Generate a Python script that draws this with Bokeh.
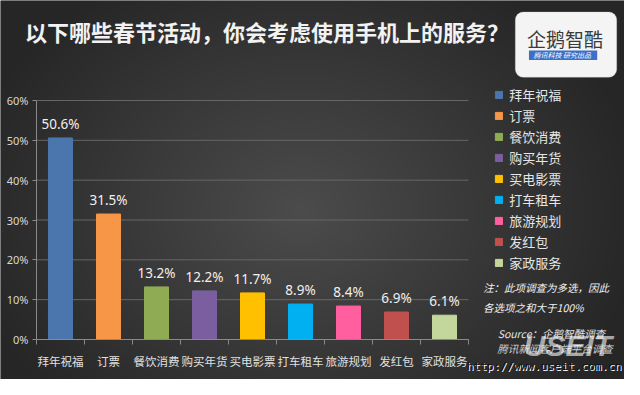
import numpy as np
from bokeh.plotting import figure
from bokeh.models import (Range1d, FixedTicker, PrintfTickFormatter, Label, Legend,
                          LegendItem, ColumnDataSource, BoxAnnotation)
from bokeh.embed import file_html
from bokeh.resources import INLINE
from bokeh.core.properties import value

# ---- data ----
categories = ["拜年祝福", "订票", "餐饮消费", "购买年货", "买电影票", "打车租车", "旅游规划", "发红包", "家政服务"]
shares = [50.6, 31.5, 13.2, 12.2, 11.7, 8.9, 8.4, 6.9, 6.1]
colors = ["#4a76ad", "#f79646", "#8fac54", "#7a5ea0", "#ffc000", "#00b0f0", "#ff5f9e", "#c0504d", "#c3d69b"]
y_ticks = [0, 10, 20, 30, 40, 50, 60]

title_text = "以下哪些春节活动，你会考虑使用手机上的服务？"
note_lines = ["注：此项调查为多选，因此", "各选项之和大于100%"]
source_lines = ["Source：企鹅智酷调查", "腾讯新闻客户端平台调查"]

W, H = 624, 379
SX, SY = W / 640, H / 395
FL, FR, FT, FB = 36, 468, 100, 339      # chart area (axes box) in canvas px
BG = "#3a3a3a"
CJK = "Noto Sans CJK SC"
n = len(categories)
YMAX = 60
PXU = (FR - FL) / n          # px per x unit
PYU = (FB - FT) / YMAX       # px per y unit
X0, X1 = 0.5 - FL / PXU, 0.5 + (W - FL) / PXU
Y0, Y1 = -(H - FB) / PYU, FB / PYU


def dx(rx):  # reference pixel x -> data x
    return 0.5 + (rx * SX - FL) / PXU


def dy(ry):  # reference pixel y -> data y
    return (FB - ry * SY) / PYU


xs = list(range(1, n + 1))
src = ColumnDataSource(dict(x=xs, y=shares, c=colors, cat=categories,
                            lab=[f"{v:.1f}%" for v in shares]))

p = figure(width=W, height=H, output_backend="svg", toolbar_location=None,
           x_range=Range1d(X0, X1), y_range=Range1d(Y0, Y1),
           min_border_left=0, min_border_right=0, min_border_top=0, min_border_bottom=0)
p.background_fill_color = BG
p.border_fill_color = BG
p.outline_line_color = None

# soft radial background shading
gy, gx = np.mgrid[0:H, 0:W]
d = np.sqrt(((gx - 300) / 420.0) ** 2 + ((gy - 210) / 330.0) ** 2)
shade = np.clip(76 - 46 * d, 38, 76).astype(np.uint8)[::-1]
img = np.zeros((H, W), dtype=np.uint32)
v = img.view(dtype=np.uint8).reshape((H, W, 4))
v[:, :, 0] = shade
v[:, :, 1] = shade
v[:, :, 2] = shade
v[:, :, 3] = 255
p.image_rgba(image=[img], x=X0, y=Y0, dw=X1 - X0, dh=Y1 - Y0, level="image")

# grid lines limited to the chart area
p.segment(x0=[0.5] * len(y_ticks), x1=[n + 0.5] * len(y_ticks), y0=y_ticks, y1=y_ticks,
          line_color="#666666", line_width=1, level="underlay")

r = p.vbar(x="x", top="y", width=0.5, color="c", source=src)
p.text(x="x", y="y", text="lab", source=src, text_align="center", text_baseline="bottom",
       y_offset=-5, text_color="#f0f0f0", text_font=value("Noto Sans"), text_font_size="13.5px")

# axes (fixed inside the canvas so that surrounding texts are not clipped)
p.yaxis.fixed_location = 0.5
p.xaxis.fixed_location = 0
p.yaxis.ticker = FixedTicker(ticks=y_ticks)
p.yaxis.bounds = (0, YMAX)
p.yaxis.formatter = PrintfTickFormatter(format="%d%%")
p.yaxis.axis_line_color = "#8a8a8a"
p.yaxis.major_tick_line_color = "#8a8a8a"
p.yaxis.major_tick_out = 4
p.yaxis.major_tick_in = 0
p.yaxis.minor_tick_line_color = None
p.yaxis.major_label_text_color = "#d8d8d8"
p.yaxis.major_label_text_font = "Noto Sans"
p.yaxis.major_label_text_font_size = "11px"
p.yaxis.major_label_standoff = 4

p.xaxis.ticker = FixedTicker(ticks=xs, minor_ticks=[i + 0.5 for i in range(n + 1)])
p.xaxis.bounds = (0.5, n + 0.5)
p.xaxis.major_label_overrides = {x: c for x, c in zip(xs, categories)}
p.xaxis.axis_line_color = "#8a8a8a"
p.xaxis.major_tick_line_color = None
p.xaxis.minor_tick_line_color = "#8a8a8a"
p.xaxis.minor_tick_out = 5
p.xaxis.minor_tick_in = 0
p.xaxis.major_label_text_color = "#e0e0e0"
p.xaxis.major_label_text_font = CJK
p.xaxis.major_label_text_font_size = "11.5px"
p.xaxis.major_label_standoff = 7

p.xgrid.grid_line_color = None
p.ygrid.grid_line_color = None


def label(rx, ry, text, **kw):
    p.add_layout(Label(x=dx(rx), y=dy(ry), text=text, **kw))


# title
label(25, 32, title_text, text_color="#f2f2f2", text_font=CJK, text_font_style="bold",
      text_font_size="22px", text_baseline="middle")

# legend (screen units relative to the frame = canvas)
items = [LegendItem(label=c, renderers=[r], index=i) for i, c in enumerate(categories)]
leg = Legend(items=items, location=(507 * SX, H - 284 * SY), background_fill_alpha=0,
             border_line_alpha=0, padding=0, margin=0, spacing=2, glyph_width=9,
             glyph_height=9, label_height=13, label_standoff=6,
             label_text_color="#e6e6e6", label_text_font=CJK, label_text_font_size="13px")
p.add_layout(leg, "center")

# notes
for i, t in enumerate(note_lines):
    label(495, 299 + 21 * i, t, text_color="#f2f2f2", text_font=CJK, text_font_style="italic",
          text_font_size="10.5px", text_baseline="middle")
label(620, 347, source_lines[0], text_color="#e6e6e6", text_font=CJK, text_font_style="italic",
      text_font_size="10.5px", text_baseline="middle", text_align="right")
label(628, 363, source_lines[1], text_color="#cfcfcf", text_font=CJK, text_font_style="italic",
      text_font_size="10.5px", text_baseline="middle", text_align="right")

# watermark
label(582, 360, "USEIT", text_color="#ffffff", text_alpha=0.6, text_font="Liberation Sans",
      text_font_style="bold italic", text_font_size="30px", text_baseline="middle",
      text_align="center")
label(637, 381, "http://www.useit.com.cn", text_color="#ffffff", text_font="DejaVu Sans Mono",
      text_font_size="11.2px", text_baseline="middle", text_align="right", x_offset=1, y_offset=-1)
label(637, 381, "http://www.useit.com.cn", text_color="#111111", text_font="DejaVu Sans Mono",
      text_font_size="11.2px", text_baseline="middle", text_align="right")

# logo
p.add_layout(BoxAnnotation(left=dx(528), right=dx(632), top=dy(12), bottom=dy(80),
                           fill_color="#f4f4f4", fill_alpha=1, line_color="#cccccc",
                           border_radius=8, level="overlay"))
p.add_layout(BoxAnnotation(left=dx(542), right=dx(612), top=dy(52), bottom=dy(62),
                           fill_color="#3d6fc6", fill_alpha=1, line_color=None, level="overlay"))
label(579, 40, "企鹅智酷", text_color="#3a3a3a", text_font=CJK, text_font_size="19px",
      text_baseline="middle", text_align="center", level="overlay")
label(577, 57, "腾讯科技  研究出品", text_color="#ffffff", text_font=CJK, text_font_style="italic",
      text_font_size="7px", text_baseline="middle", text_align="center", level="overlay")

open("out.html", "w").write(file_html(p, INLINE))
